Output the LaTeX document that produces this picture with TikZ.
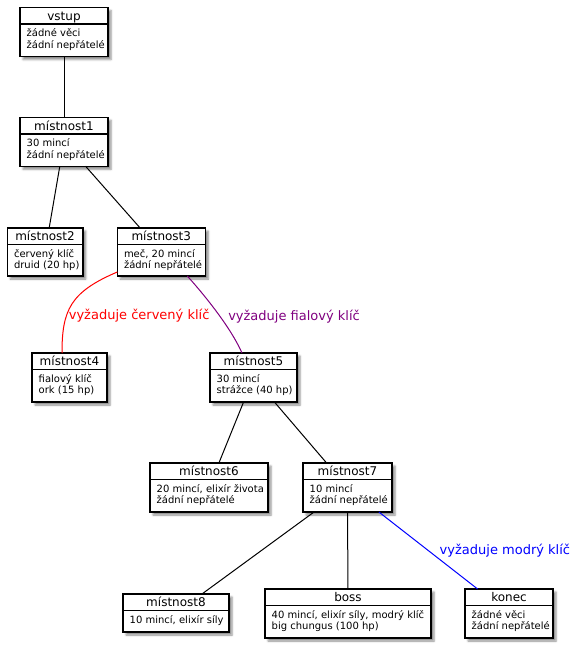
\documentclass[tikz,border=0pt]{standalone}
\usepackage{fontspec}
\setmainfont{DejaVu Sans}
\usepackage{tikz}
\usetikzlibrary{calc,shadows.blur}
\definecolor{keypurple}{RGB}{128,0,128}
\tikzset{
  roombox/.style={draw,line width=1.5pt,fill=white,inner sep=0pt,outer sep=0pt,anchor=north west,
    blur shadow={shadow xshift=3pt,shadow yshift=-3pt,shadow blur radius=2pt,shadow opacity=45}},
  roomtitle/.style={anchor=base,inner sep=0pt,font=\fontsize{12}{14}\selectfont},
  roombody/.style={anchor=north west,inner sep=0pt,align=left,font=\fontsize{10}{11.6}\selectfont},
  reqlabel/.style={inner sep=0pt,font=\fontsize{13}{15}\selectfont}
}
\newcommand{\room}[6]{%
  \node[roombox,minimum width=#3pt,minimum height=#4pt] (#1) at (#2) {};
  \draw[line width=1.5pt] ([yshift=-16.5pt]#1.north west) -- ([yshift=-16.5pt]#1.north east);
  \node[roomtitle] (#1t) at ([yshift=-12.8pt]#1.north) {#5};
  \node[roombody] (#1b) at ([xshift=6.5pt,yshift=-19.5pt]#1.north west) {\rule{0pt}{9.5pt}#6};
}

\begin{document}
\begin{tikzpicture}[x=1pt,y=-1pt]
  \useasboundingbox (0,0) rectangle (578,651);
  \room{vstup}{20,7.5}{88}{49}{vstup}{žádné věci\\žádní nepřátelé}
  \room{m1}{20,117.3}{88}{49}{místnost1}{30 mincí\\žádní nepřátelé}
  \room{m2}{7.3,228}{75.5}{48}{místnost2}{červený klíč\\druid (20 hp)}
  \room{m3}{117.3,228}{88}{48}{místnost3}{meč, 20 mincí\\žádní nepřátelé}
  \room{m4}{32,353}{75}{49}{místnost4}{fialový klíč\\ork (15 hp)}
  \room{m5}{210,353}{87}{49}{místnost5}{30 mincí\\strážce (40 hp)}
  \room{m6}{150,463}{118}{49}{místnost6}{20 mincí, elixír života\\žádní nepřátelé}
  \room{m7}{303,463}{89}{49}{místnost7}{10 mincí\\žádní nepřátelé}
  \room{m8}{123,594}{106}{38}{místnost8}{10 mincí, elixír síly}
  \room{boss}{265,589}{166}{49}{boss}{40 mincí, elixír síly, modrý klíč\\big chungus (100 hp)}
  \room{konec}{465,589}{88}{49}{konec}{žádné věci\\žádní nepřátelé}
  \path[line width=1pt]
    (vstup) edge (m1)
    (m1) edge (m2)
    (m1) edge (m3)
    (m5) edge (m6)
    (m5) edge (m7)
    (m7) edge (m8)
    (m7) edge (boss)
    (m7) edge[blue] node[reqlabel,pos=0.5,right=11pt]{vyžaduje modrý klíč} (konec);
  \draw[red,line width=1pt] ([yshift=4pt]m3.south west) .. controls +(-47,20) and +(0,-43) ..
    node[reqlabel,pos=0.65,right=2pt]{vyžaduje červený klíč} ([xshift=-7.5pt]m4.north);
  \draw[keypurple,line width=1pt] ([xshift=26pt]m3.south) .. controls +(18,20) and +(-11,-25) ..
    node[reqlabel,pos=0.55,right=7.5pt]{vyžaduje fialový klíč} ([xshift=-11.5pt]m5.north);
\end{tikzpicture}
\end{document}
